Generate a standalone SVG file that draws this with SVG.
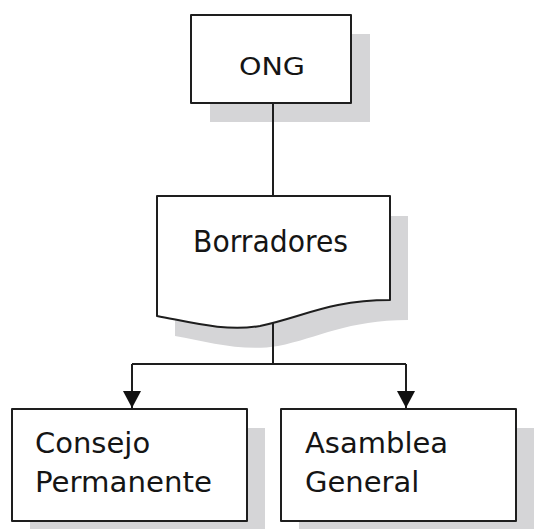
<svg xmlns="http://www.w3.org/2000/svg" width="536" height="529" viewBox="0 0 536 529">
<defs>
<style>
.shadow{fill:#d5d5d7;stroke:none}
.box{fill:#ffffff;stroke:#1e1e1e;stroke-width:2;stroke-linejoin:round}
.lbl{font-family:"DejaVu Sans","Liberation Sans",sans-serif;fill:#151515}
.conn{fill:none;stroke:#1e1e1e;stroke-width:2}
</style>
<marker id="arrow" markerUnits="userSpaceOnUse" markerWidth="18" markerHeight="20" refX="17" refY="9" orient="auto">
<path d="M0,0 L17,9 L0,18 Z" fill="#111111"/>
</marker>
</defs>
<rect width="536" height="529" fill="#ffffff"/>
<g id="node-ong">
<rect class="shadow" x="210" y="34" width="160" height="88"/>
<rect class="box" x="191" y="15" width="160" height="88"/>
<text class="lbl" x="272" y="75" font-size="25" text-anchor="middle" textLength="66" lengthAdjust="spacingAndGlyphs">ONG</text>
</g>
<g id="node-borradores">
<path class="shadow" transform="translate(18,20)" d="M157,196 H390 V300 C330,300 300,318 260,326 C225,332 190,322 157,316 Z"/>
<path class="box" d="M157,196 H390 V300 C330,300 300,318 260,326 C225,332 190,322 157,316 Z"/>
<text class="lbl" x="193" y="252" font-size="30" textLength="155" lengthAdjust="spacingAndGlyphs">Borradores</text>
</g>
<g id="node-consejo">
<rect class="shadow" x="30" y="428" width="235" height="112"/>
<rect class="box" x="12" y="409" width="235" height="112"/>
<text class="lbl" x="35" y="453" font-size="29">Consejo</text>
<text class="lbl" x="35" y="492" font-size="29" textLength="177" lengthAdjust="spacingAndGlyphs">Permanente</text>
</g>
<g id="node-asamblea">
<rect class="shadow" x="299" y="428" width="235" height="112"/>
<rect class="box" x="281" y="409" width="235" height="112"/>
<text class="lbl" x="305" y="453" font-size="29">Asamblea</text>
<text class="lbl" x="305" y="492" font-size="29">General</text>
</g>
<g id="connectors">
<line class="conn" x1="273" y1="104" x2="273" y2="196"/>
<polyline class="conn" points="273,323 273,364"/>
<polyline class="conn" points="132,364 406,364"/>
<line class="conn" x1="132" y1="364" x2="132" y2="408" marker-end="url(#arrow)"/>
<line class="conn" x1="406" y1="364" x2="406" y2="408" marker-end="url(#arrow)"/>
</g>
</svg>
